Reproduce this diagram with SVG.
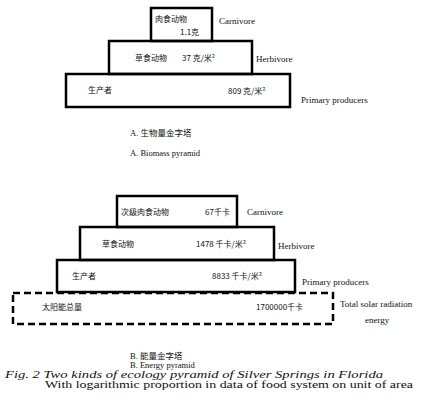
<svg xmlns="http://www.w3.org/2000/svg" width="430" height="404" viewBox="0 0 430 404">
<style>
.box{fill:none;stroke:#000;stroke-width:2.5}
.dash{fill:none;stroke:#000;stroke-width:2.5;stroke-dasharray:7,4}
.zh{font-family:"Noto Sans CJK SC","Liberation Serif",serif;font-size:8px;fill:#111}
.en{font-family:"Liberation Serif",serif;font-size:9px;fill:#111}
.cap{font-family:"Liberation Serif","Noto Sans CJK SC",serif;font-size:8.5px;fill:#111}
.big{font-size:10px}
.it{font-style:italic}
</style>
<rect width="430" height="404" fill="#fff"/>
<g id="pyramidA">
<g id="a-carnivore">
<rect class="box" x="151" y="8" width="61" height="33"/>
<text class="zh" x="155" y="22">肉食动物</text>
<text class="zh" x="180" y="35">1.1克</text>
<text class="en" x="219" y="24">Carnivore</text>
</g>
<g id="a-herbivore">
<rect class="box" x="109" y="41" width="143" height="33"/>
<text class="zh" x="135" y="61">草食动物</text>
<text class="zh" x="182" y="61">37 克/米²</text>
<text class="en" x="256" y="62">Herbivore</text>
</g>
<g id="a-producers">
<rect class="box" x="66" y="74" width="224" height="33"/>
<text class="zh" x="88" y="93">生产者</text>
<text class="zh" x="228" y="94">809 克/米²</text>
<text class="en" x="301" y="103">Primary producers</text>
</g>
</g>
<g id="captionA">
<text class="cap" x="130" y="136">A. 生物量金字塔</text>
<text class="cap" x="130" y="156">A. Biomass pyramid</text>
</g>
<g id="pyramidB">
<g id="b-carnivore">
<rect class="box" x="117" y="196" width="120" height="31"/>
<text class="zh" x="121" y="215">次级肉食动物</text>
<text class="zh" x="205" y="215">67千卡</text>
<text class="en" x="247" y="215">Carnivore</text>
</g>
<g id="b-herbivore">
<rect class="box" x="80" y="227" width="194" height="33"/>
<text class="zh" x="102" y="247">草食动物</text>
<text class="zh" x="196" y="247">1478 千卡/米²</text>
<text class="en" x="278" y="249">Herbivore</text>
</g>
<g id="b-producers">
<rect class="box" x="57" y="260" width="238" height="32"/>
<text class="zh" x="72" y="279">生产者</text>
<text class="zh" x="212" y="279">8833 千卡/米²</text>
<text class="en" x="302" y="285">Primary producers</text>
</g>
<g id="b-solar">
<rect class="dash" x="13" y="293" width="320" height="31"/>
<text class="zh" x="42" y="310">太阳能总量</text>
<text class="zh" x="256" y="310">1700000千卡</text>
<text class="en" x="340" y="307">Total solar radiation</text>
<text class="en" x="365" y="323">energy</text>
</g>
</g>
<g id="captionB">
<text class="cap" x="130" y="359">B. 能量金字塔</text>
<text class="cap" x="130" y="368">B. Energy pyramid</text>
<text class="cap big it" x="5" y="378" textLength="378" lengthAdjust="spacingAndGlyphs">Fig. 2  Two kinds of ecology pyramid of Silver Springs in Florida</text>
<text class="cap big" x="45" y="388" textLength="368" lengthAdjust="spacingAndGlyphs">With logarithmic proportion in data of food system on unit of area</text>
</g>
</svg>
